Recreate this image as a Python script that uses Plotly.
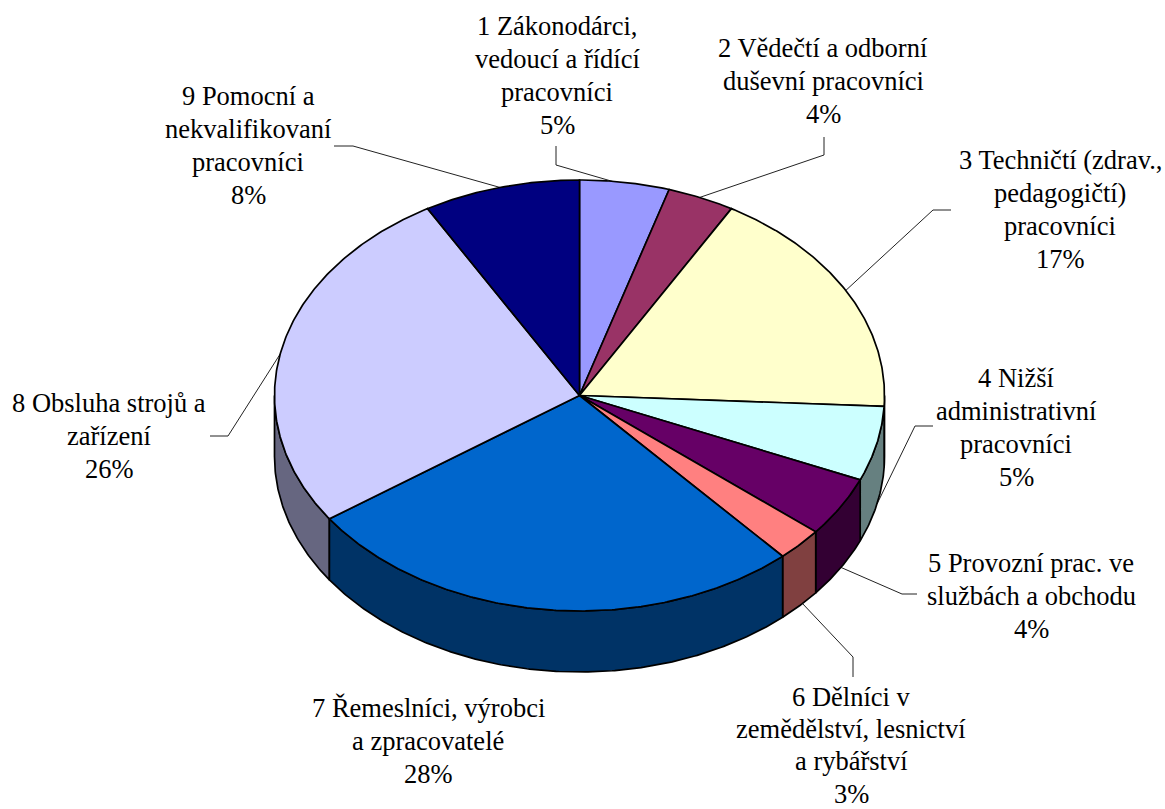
import math
import plotly.graph_objects as go

# Data
categories = ["1 Zákonodárci", "2 Vědečtí a odborní", "3 Techničtí", "4 Nižší administrativní",
              "5 Provozní prac.", "6 Dělníci", "7 Řemeslníci", "8 Obsluha strojů", "9 Pomocní"]
shares = [4.75, 3.55, 17.5, 5.6, 4.5, 2.5, 26.9, 26.4, 8.3]
percent_labels = ["5%", "4%", "17%", "5%", "4%", "3%", "28%", "26%", "8%"]
label_lines = [
    ["1 Zákonodárci,", "vedoucí a řídící", "pracovníci"],
    ["2 Vědečtí a odborní", "duševní pracovníci"],
    ["3 Techničtí (zdrav.,", "pedagogičtí)", "pracovníci"],
    ["4 Nižší", "administrativní", "pracovníci"],
    ["5 Provozní prac. ve", "službách a obchodu"],
    ["6 Dělníci v", "zemědělství, lesnictví", "a rybářství"],
    ["7 Řemeslníci, výrobci", "a zpracovatelé"],
    ["8 Obsluha strojů a", "zařízení"],
    ["9 Pomocní a", "nekvalifikovaní", "pracovníci"],
]
top_colors = ["#9999FF", "#993366", "#FFFFCC", "#CCFFFF", "#660066", "#FF8080", "#0066CC", "#CCCCFF", "#000080"]
side_colors = ["#4C4C80", "#4C1933", "#808066", "#668080", "#330033", "#804040", "#003366", "#666680", "#000040"]

# Layout
W, H = 1165, 809
CX, CY, RX, RY, DEPTH = 579.5, 395.5, 305, 215.5, 61
FONT = dict(family="Liberation Serif", size=26.5, color="black")
label_pos = [(557, 26), (823, 48), (1060, 160), (1016, 378), (1031, 563), (851, 697), (428, 708), (109, 403), (248, 96)]
line_heights = [33, 33, 33, 33, 33, 32.2, 33, 33, 33]
leaders = [
    [(556, 146), (556, 165), (618, 183)],
    [(824, 137), (824, 155), (698, 198)],
    [(951, 210), (933, 210), (843, 293)],
    [(933, 426), (915, 426), (877, 504)],
    [(917, 594), (902, 594), (840, 567)],
    [(853, 677), (853, 657), (802, 603)],
    None,
    [(210, 436), (228, 436), (284, 348)],
    [(334, 146), (353, 146), (502, 188)],
]


def pt(theta, dy=0.0):
    return CX + RX * math.sin(theta), CY - RY * math.cos(theta) + dy


def arc(a, b, dy=0.0):
    n = max(2, int(abs(b - a) / math.radians(0.5)))
    return [pt(a + (b - a) * i / n, dy) for i in range(n + 1)]


fig = go.Figure()
total = sum(shares)
edges = [0.0]
for s in shares:
    edges.append(edges[-1] + s / total * 2 * math.pi)

for seg in leaders:
    if seg:
        fig.add_trace(go.Scatter(x=[p[0] for p in seg], y=[p[1] for p in seg], mode="lines",
                                 line=dict(color="#222222", width=1), hoverinfo="skip", showlegend=False))

# side walls: only the front half of the rim is visible
order = sorted(range(len(shares)), key=lambda k: -abs((edges[k] + edges[k + 1]) / 2 - math.pi))
for i in order:
    a, b = max(edges[i], math.pi / 2), min(edges[i + 1], 3 * math.pi / 2)
    if b <= a:
        continue
    poly = arc(a, b) + arc(b, a, DEPTH)
    poly.append(poly[0])
    fig.add_trace(go.Scatter(x=[p[0] for p in poly], y=[p[1] for p in poly], mode="lines", fill="toself",
                             fillcolor=side_colors[i], line=dict(color="black", width=1.7),
                             name=categories[i], hoverinfo="name", showlegend=False))

# top faces
for i in range(len(shares)):
    poly = [(CX, CY)] + arc(edges[i], edges[i + 1]) + [(CX, CY)]
    fig.add_trace(go.Scatter(x=[p[0] for p in poly], y=[p[1] for p in poly], mode="lines", fill="toself",
                             fillcolor=top_colors[i], line=dict(color="black", width=1.7),
                             name=categories[i], hoverinfo="name", showlegend=False))

annotations = []
for lines, pct, (x, y), lh in zip(label_lines, percent_labels, label_pos, line_heights):
    for j, text in enumerate(lines + [pct]):
        annotations.append(dict(x=x, y=y + j * lh, text=text, showarrow=False, font=FONT,
                                xanchor="center", yanchor="middle", xref="x", yref="y"))

fig.update_layout(width=W, height=H, margin=dict(l=0, r=0, t=0, b=0), autosize=False,
                  paper_bgcolor="white", plot_bgcolor="white", showlegend=False, annotations=annotations,
                  xaxis=dict(range=[0, W], visible=False, fixedrange=True),
                  yaxis=dict(range=[H, 0], visible=False, fixedrange=True))
fig.write_html("out.html", config=dict(displayModeBar=False),
               post_script="document.body.style.margin='0';document.documentElement.style.overflow='hidden';")
